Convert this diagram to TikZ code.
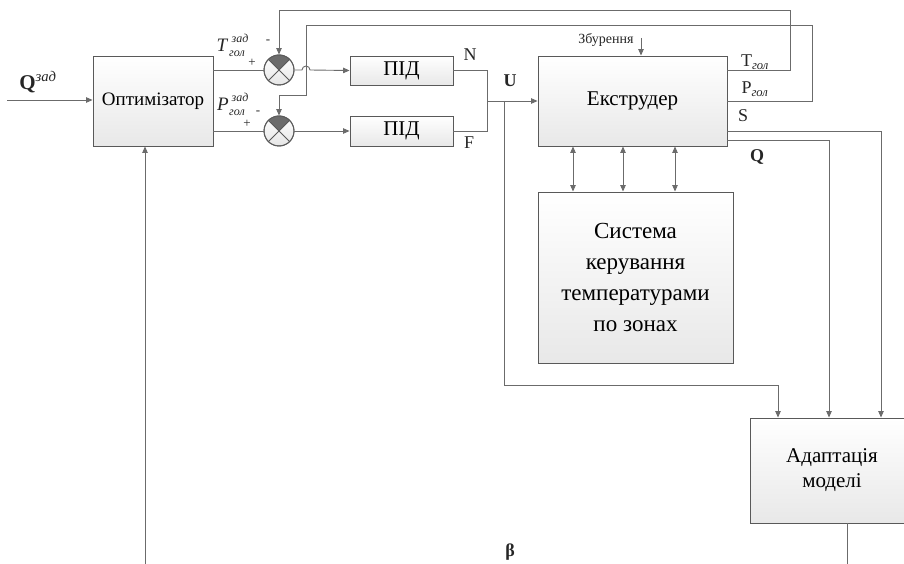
\documentclass[tikz,border=0pt]{standalone}
\usepackage{fontspec}
\setmainfont{Liberation Serif}
\usepackage{amsmath}
\usetikzlibrary{arrows.meta,shadows}

\begin{document}
\begin{tikzpicture}[x=1pt,y=-1pt,
  wire/.style={draw=black!58, line width=0.9pt},
  arr/.style={wire, -{Triangle[length=6.5pt,width=5.5pt]}},
  biarr/.style={wire, {Triangle[length=6.5pt,width=5.5pt]}-{Triangle[length=6.5pt,width=5.5pt]}},
  block/.style={rectangle, draw=black!65, line width=0.9pt, inner sep=0pt, align=center,
    top color=white, bottom color=black!9,
    drop shadow={shadow xshift=1.3pt, shadow yshift=-1.3pt, fill=black, opacity=0.22},
    font=\fontsize{21}{25}\selectfont},
  summer/.style={circle, draw=black!65, line width=0.9pt, minimum size=30pt, inner sep=0pt,
    top color=white, bottom color=black!10},
  lbl/.style={inner sep=0pt, text=black!85, font=\fontsize{18}{21}\selectfont},
  big/.style={inner sep=0pt, text=black!85, font=\fontsize{19}{22}\selectfont\itshape},
  idx/.style={inner sep=0pt, text=black!85, font=\fontsize{12}{14}\selectfont\itshape},
  sgn/.style={inner sep=0pt, text=black!85, font=\fontsize{13}{15}\selectfont},
]
\useasboundingbox (0,0) rectangle (904,564);
\clip (0,0) rectangle (904,564);

% blocks
\node[block, minimum width=120pt, minimum height=90pt, font=\fontsize{19}{23}\selectfont]
  (opt) at (153,101) {Оптимізатор};
\node[block, minimum width=103pt, minimum height=29pt] (pid1) at (401.5,70.5) {ПІД};
\node[block, minimum width=103pt, minimum height=30pt] (pid2) at (401.5,131) {ПІД};
\node[block, minimum width=189pt, minimum height=90pt] (ext) at (632.5,101) {Екструдер};
\node[block, minimum width=195pt, minimum height=171pt, font=\fontsize{23}{31}\selectfont]
  (sys) at (635.5,277.5) {Система\\керування\\температурами\\по зонах};
\node[block, minimum width=164pt, minimum height=105pt] (adapt) at (832,470.5) {Адаптація\\моделі};

% summing junctions
\foreach \s/\y in {s1/70, s2/131} {
  \node[summer] (\s) at (279,\y) {};
  \fill[black!58] (\s.center) -- (\s.45) arc[start angle=45, end angle=135, radius=15pt] -- cycle;
  \draw[black!65, line width=0.8pt] (\s.45) -- (\s.225) (\s.135) -- (\s.-45);
  \draw[black!65, line width=0.9pt] (\s) circle[radius=15pt];
}

% free ends
\coordinate (qin) at (7,100);
\coordinate (bin) at (145,564);
\coordinate (dist) at (641,38);
\coordinate (aout) at (847,564);
\coordinate (hop) at (306,70);

% input and setpoints
\draw[arr] (qin) -- (qin -| opt.west);
\draw[arr] (bin) -- (bin |- opt.south);
\draw[wire] (opt.east |- s1) -- (s1.west);
\draw[wire] (opt.east |- s2) -- (s2.west);

% error signals to the controllers (the upper one hops over the feedback wire)
\draw[arr] (s1.east) -- ([xshift=-4pt]hop) arc[start angle=180, end angle=0, radius=4pt] -- (pid1.west);
\draw[arr] (s2.east) -- (pid2.west);

% controller outputs merge into U
\draw[wire] (pid1.east) -- (487,70.5) -- (487,131) -- (pid2.east);
\draw[arr] (487,101) -- (ext.west);
\draw[arr] (504,101) -- (504,385) -- (778,385) -- (778,0 |- adapt.north);

% disturbance
\draw[arr] (dist) -- (dist |- ext.north);

% feedback loops
\draw[arr] (ext.east |- s1) -- (790,70) -- (790,10) -- (s1.north |- 0,10) -- (s1.north);
\draw[arr] (ext.east) -- (812,101) -- (812,25) -- (306,25) -- (306,95) -- (s2.north |- 0,95) -- (s2.north);

% measured outputs to the adaptation block
\draw[arr] (ext.east |- 0,131) -- (881,131) -- (881,0 |- adapt.north);
\draw[arr] (ext.east |- 0,140) -- (829,140) -- (829,0 |- adapt.north);
\draw[wire] (aout |- adapt.south) -- (aout);

% extruder <-> temperature control
\foreach \x in {573,623,675}
  \draw[biarr] (\x,0 |- ext.south) -- (\x,0 |- sys.north);

% labels
\node[lbl, font=\fontsize{21}{24}\selectfont] at (38,82) {\textbf{Q}$^{\text{\itshape зад}}$};
% set-point labels built from symbol, upper and lower index
\node[big] at (222,45) {T};
\node[idx] at (240,38) {зад};
\node[idx] at (237,54) {гол};
\node[big] at (223,104) {P};
\node[idx] at (240,97) {зад};
\node[idx] at (237,113) {гол};
\node[sgn] at (268,42) {-};
\node[sgn] at (252,63) {+};
\node[sgn] at (258,113) {-};
\node[sgn] at (247,124) {+};
\node[lbl] at (470,55) {N};
\node[lbl] at (469,143) {F};
\node[lbl] at (510,81) {\textbf{U}};
\node[sgn, font=\fontsize{14}{16}\selectfont] at (606,40) {Збурення};
\node[lbl] at (755,62) {T$_{\text{\itshape гол}}$};
\node[lbl] at (755,89) {P$_{\text{\itshape гол}}$};
\node[lbl] at (743,116) {S};
\node[lbl] at (757,157) {\textbf{Q}};
\node[lbl] at (510,552) {\textbf{β}};
\end{tikzpicture}
\end{document}
